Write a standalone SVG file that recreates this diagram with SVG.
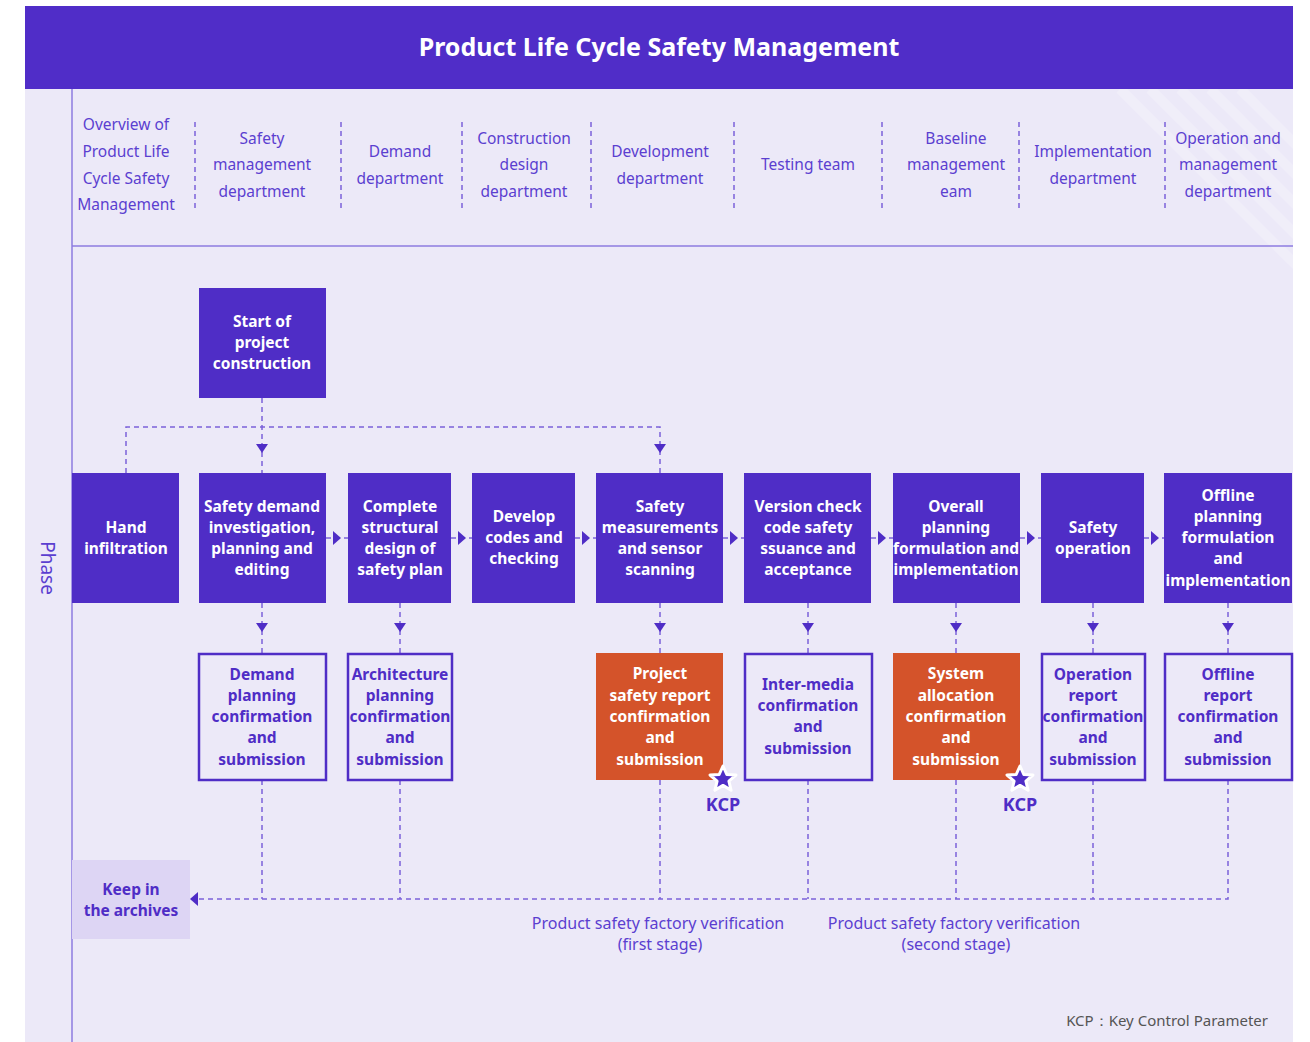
<svg xmlns="http://www.w3.org/2000/svg" width="1310" height="1042" viewBox="0 0 1310 1042">
<defs>
<style>
.hdr{font-family:"Noto Sans","Open Sans",sans-serif;font-size:15.5px;fill:#5B3FD0;text-anchor:middle;}
.bx{fill:#4F2DC6;}
.bt{font-family:"Noto Sans","Open Sans",sans-serif;font-size:15.5px;font-weight:bold;fill:#FFFFFF;text-anchor:middle;dominant-baseline:central;}
.ot{font-family:"Noto Sans","Open Sans",sans-serif;font-size:15.5px;font-weight:bold;fill:#4F2DC6;text-anchor:middle;dominant-baseline:central;}
.ob{fill:none;stroke:#4F2DC6;stroke-width:2.5;}
.or{fill:#D4532A;}
.dash{fill:none;stroke:#7B62D9;stroke-width:1.5;stroke-dasharray:5 4;}
.div{fill:none;stroke:#7B62D9;stroke-width:1.5;stroke-dasharray:5 4;}
.tri{fill:#4F2DC6;}
.lbl{font-family:"Noto Sans","Open Sans",sans-serif;font-size:16px;fill:#5B3FD0;text-anchor:middle;}
.kcp{font-family:"Noto Sans","Open Sans",sans-serif;font-size:18px;font-weight:bold;fill:#4F2DC6;text-anchor:middle;}
.st{fill:#4F2DC6;stroke:#FFFFFF;stroke-width:3;stroke-linejoin:round;}
</style>
<polygon id="tdown" points="-6,-5 6,-5 0,4" class="tri"/>
<polygon id="tright" points="-4,-7 4,0 -4,7" class="tri"/>
<polygon id="star" points="0,-13 3.8,-4.5 13,-4 5.9,2.1 8.1,11.3 0,6.4 -8.1,11.3 -5.9,2.1 -13,-4 -3.8,-4.5"/>
<clipPath id="clipR"><rect x="1100" y="89" width="193" height="200"/></clipPath>
</defs>

<rect x="0" y="0" width="1310" height="1042" fill="#FFFFFF"/>
<rect x="25" y="89" width="1268" height="953" fill="#ECE9F8"/>
<g clip-path="url(#clipR)" stroke="#F4F2FB" stroke-width="10" opacity="0.6">
<line x1="1120" y1="89" x2="1300" y2="269"/>
<line x1="1150" y1="89" x2="1300" y2="239"/>
<line x1="1180" y1="89" x2="1300" y2="209"/>
<line x1="1210" y1="89" x2="1300" y2="179"/>
<line x1="1240" y1="89" x2="1300" y2="149"/>
</g>
<rect x="25" y="6" width="1268" height="83" fill="#502DC8"/>
<text x="659" y="56" font-family="'Noto Sans','Open Sans',sans-serif" font-size="25" font-weight="bold" fill="#FFFFFF" text-anchor="middle">Product Life Cycle Safety Management</text>

<line x1="72" y1="89" x2="72" y2="1042" stroke="#8E7BE0" stroke-width="1.5"/>
<line x1="72" y1="246" x2="1293" y2="246" stroke="#8E7BE0" stroke-width="1.5"/>
<text transform="translate(41,568) rotate(90)" font-family="'Noto Sans','Open Sans',sans-serif" font-size="19" fill="#5B3FD0" text-anchor="middle">Phase</text>

<g id="header">
<g class="div">
<line x1="195" y1="122" x2="195" y2="212"/>
<line x1="341" y1="122" x2="341" y2="212"/>
<line x1="462" y1="122" x2="462" y2="212"/>
<line x1="591" y1="122" x2="591" y2="212"/>
<line x1="734" y1="122" x2="734" y2="212"/>
<line x1="882" y1="122" x2="882" y2="212"/>
<line x1="1019" y1="122" x2="1019" y2="212"/>
<line x1="1165" y1="122" x2="1165" y2="212"/>
</g>
<text class="hdr"><tspan x="126" y="130">Overview of</tspan><tspan x="126" y="157">Product Life</tspan><tspan x="126" y="184">Cycle Safety</tspan><tspan x="126" y="210">Management</tspan></text>
<text class="hdr"><tspan x="262" y="144">Safety</tspan><tspan x="262" y="170">management</tspan><tspan x="262" y="197">department</tspan></text>
<text class="hdr"><tspan x="400" y="157">Demand</tspan><tspan x="400" y="184">department</tspan></text>
<text class="hdr"><tspan x="524" y="144">Construction</tspan><tspan x="524" y="170">design</tspan><tspan x="524" y="197">department</tspan></text>
<text class="hdr"><tspan x="660" y="157">Development</tspan><tspan x="660" y="184">department</tspan></text>
<text class="hdr"><tspan x="808" y="170">Testing team</tspan></text>
<text class="hdr"><tspan x="956" y="144">Baseline</tspan><tspan x="956" y="170">management</tspan><tspan x="956" y="197">eam</tspan></text>
<text class="hdr"><tspan x="1093" y="157">Implementation</tspan><tspan x="1093" y="184">department</tspan></text>
<text class="hdr"><tspan x="1228" y="144">Operation and</tspan><tspan x="1228" y="170">management</tspan><tspan x="1228" y="197">department</tspan></text>
</g>

<g id="connectors">
<path class="dash" d="M262,398 V473"/>
<path class="dash" d="M126,473 V427 H660 V473"/>
<use href="#tdown" x="262" y="449"/>
<use href="#tdown" x="660" y="449"/>
<path class="dash" d="M326,538 H348 M451,538 H472 M575,538 H596 M723,538 H744 M871,538 H893 M1020,538 H1041 M1144,538 H1164"/>
<use href="#tright" x="337" y="538"/>
<use href="#tright" x="462" y="538"/>
<use href="#tright" x="586" y="538"/>
<use href="#tright" x="734" y="538"/>
<use href="#tright" x="882" y="538"/>
<use href="#tright" x="1031" y="538"/>
<use href="#tright" x="1155" y="538"/>
<path class="dash" d="M262,603 V653 M400,603 V653 M660,603 V653 M808,603 V653 M956,603 V653 M1093,603 V653 M1228,603 V653"/>
<use href="#tdown" x="262" y="628"/>
<use href="#tdown" x="400" y="628"/>
<use href="#tdown" x="660" y="628"/>
<use href="#tdown" x="808" y="628"/>
<use href="#tdown" x="956" y="628"/>
<use href="#tdown" x="1093" y="628"/>
<use href="#tdown" x="1228" y="628"/>
<path class="dash" d="M262,780 V899 M400,780 V899 M660,780 V899 M808,780 V899 M956,780 V899 M1093,780 V899 M1228,780 V899 H198"/>
<polygon points="190,899 198,892 198,906" class="tri"/>
</g>

<g id="start"><rect class="bx" x="199" y="288" width="127" height="110"/>
<text class="bt"><tspan x="262" y="321">Start of</tspan><tspan x="262" y="342">project</tspan><tspan x="262" y="363">construction</tspan></text></g>

<g id="hand"><rect class="bx" x="72" y="473" width="107" height="130"/>
<text class="bt"><tspan x="126" y="527">Hand</tspan><tspan x="126" y="548">infiltration</tspan></text></g>
<g id="safety-demand"><rect class="bx" x="199" y="473" width="127" height="130"/>
<text class="bt"><tspan x="262" y="506">Safety demand</tspan><tspan x="262" y="527">investigation,</tspan><tspan x="262" y="548">planning and</tspan><tspan x="262" y="569">editing</tspan></text></g>
<g id="structural"><rect class="bx" x="348" y="473" width="103" height="130"/>
<text class="bt"><tspan x="400" y="506">Complete</tspan><tspan x="400" y="527">structural</tspan><tspan x="400" y="548">design of</tspan><tspan x="400" y="569">safety plan</tspan></text></g>
<g id="develop"><rect class="bx" x="472" y="473" width="103" height="130"/>
<text class="bt"><tspan x="524" y="516">Develop</tspan><tspan x="524" y="537">codes and</tspan><tspan x="524" y="558">checking</tspan></text></g>
<g id="measurements"><rect class="bx" x="596" y="473" width="127" height="130"/>
<text class="bt"><tspan x="660" y="506">Safety</tspan><tspan x="660" y="527">measurements</tspan><tspan x="660" y="548">and sensor</tspan><tspan x="660" y="569">scanning</tspan></text></g>
<g id="version"><rect class="bx" x="744" y="473" width="127" height="130"/>
<text class="bt"><tspan x="808" y="506">Version check</tspan><tspan x="808" y="527">code safety</tspan><tspan x="808" y="548">ssuance and</tspan><tspan x="808" y="569">acceptance</tspan></text></g>
<g id="overall"><rect class="bx" x="893" y="473" width="127" height="130"/>
<text class="bt"><tspan x="956" y="506">Overall</tspan><tspan x="956" y="527">planning</tspan><tspan x="956" y="548">formulation and</tspan><tspan x="956" y="569">implementation</tspan></text></g>
<g id="operation"><rect class="bx" x="1041" y="473" width="103" height="130"/>
<text class="bt"><tspan x="1093" y="527">Safety</tspan><tspan x="1093" y="548">operation</tspan></text></g>
<g id="offline"><rect class="bx" x="1164" y="473" width="128" height="130"/>
<text class="bt"><tspan x="1228" y="495">Offline</tspan><tspan x="1228" y="516">planning</tspan><tspan x="1228" y="537">formulation</tspan><tspan x="1228" y="558">and</tspan><tspan x="1228" y="580">implementation</tspan></text></g>

<g id="demand-confirm"><rect class="ob" x="199" y="654" width="127" height="126"/>
<text class="ot"><tspan x="262" y="674">Demand</tspan><tspan x="262" y="695">planning</tspan><tspan x="262" y="716">confirmation</tspan><tspan x="262" y="737">and</tspan><tspan x="262" y="759">submission</tspan></text></g>
<g id="arch-confirm"><rect class="ob" x="348" y="654" width="104" height="126"/>
<text class="ot"><tspan x="400" y="674">Architecture</tspan><tspan x="400" y="695">planning</tspan><tspan x="400" y="716">confirmation</tspan><tspan x="400" y="737">and</tspan><tspan x="400" y="759">submission</tspan></text></g>
<g id="project-report"><rect class="or" x="596" y="653" width="127" height="127"/>
<text class="bt"><tspan x="660" y="673">Project</tspan><tspan x="660" y="695">safety report</tspan><tspan x="660" y="716">confirmation</tspan><tspan x="660" y="737">and</tspan><tspan x="660" y="759">submission</tspan></text>
<use href="#star" x="723" y="779" class="st"/>
<text x="723" y="811" class="kcp">KCP</text></g>
<g id="inter-media"><rect class="ob" x="745" y="654" width="127" height="126"/>
<text class="ot"><tspan x="808" y="684">Inter-media</tspan><tspan x="808" y="705">confirmation</tspan><tspan x="808" y="726">and</tspan><tspan x="808" y="748">submission</tspan></text></g>
<g id="system-alloc"><rect class="or" x="893" y="653" width="127" height="127"/>
<text class="bt"><tspan x="956" y="673">System</tspan><tspan x="956" y="695">allocation</tspan><tspan x="956" y="716">confirmation</tspan><tspan x="956" y="737">and</tspan><tspan x="956" y="759">submission</tspan></text>
<use href="#star" x="1020" y="779" class="st"/>
<text x="1020" y="811" class="kcp">KCP</text></g>
<g id="operation-report"><rect class="ob" x="1042" y="654" width="103" height="126"/>
<text class="ot"><tspan x="1093" y="674">Operation</tspan><tspan x="1093" y="695">report</tspan><tspan x="1093" y="716">confirmation</tspan><tspan x="1093" y="737">and</tspan><tspan x="1093" y="759">submission</tspan></text></g>
<g id="offline-report"><rect class="ob" x="1165" y="654" width="127" height="126"/>
<text class="ot"><tspan x="1228" y="674">Offline</tspan><tspan x="1228" y="695">report</tspan><tspan x="1228" y="716">confirmation</tspan><tspan x="1228" y="737">and</tspan><tspan x="1228" y="759">submission</tspan></text></g>

<g id="archives"><rect x="72" y="860" width="118" height="79" fill="#DDD5F4"/>
<text class="ot"><tspan x="131" y="889">Keep in</tspan><tspan x="131" y="910">the archives</tspan></text></g>

<text class="lbl"><tspan x="658" y="929">Product safety factory verification</tspan><tspan x="660" y="950">(first stage)</tspan></text>
<text class="lbl"><tspan x="954" y="929">Product safety factory verification</tspan><tspan x="956" y="950">(second stage)</tspan></text>
<text x="1268" y="1026" font-family="'Noto Sans','Open Sans',sans-serif" font-size="15" fill="#555555" text-anchor="end">KCP：Key Control Parameter</text>
</svg>
